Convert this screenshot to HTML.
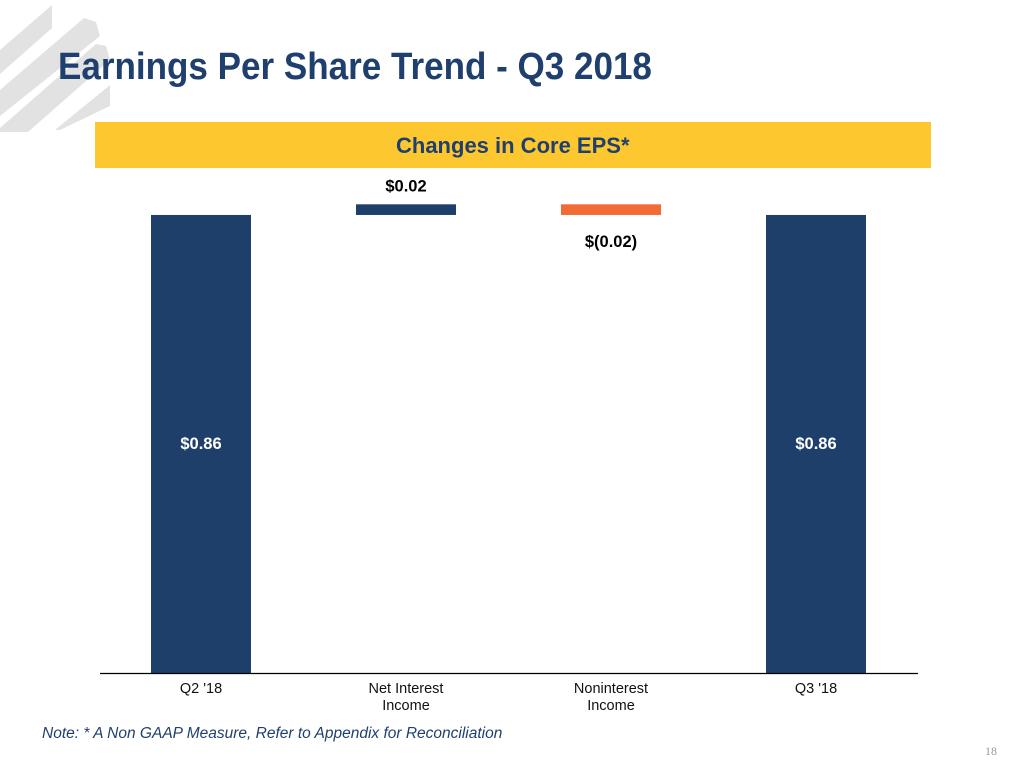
<!DOCTYPE html>
<html><head><meta charset="utf-8"><style>
body{margin:0;width:1024px;height:768px;background:#fff;overflow:hidden;position:relative;font-family:"Liberation Sans",sans-serif}
.t{position:absolute;white-space:nowrap}
</style></head><body>
<svg style="position:absolute;left:0;top:0" width="120" height="140">
<polygon points="0,50 52,5 52,28 0,74" fill="#e2e2e2"/>
<polygon points="0,90 84,18 96,22 100,36 0,116" fill="#e2e2e2"/>
<polygon points="0,128 96,44 106,46 110,60 28,132 0,132" fill="#e2e2e2"/>
<polygon points="55,130 110,85 110,106 60,130" fill="#e2e2e2"/>
</svg>
<div class="t" style="left:58px;top:46px;font-family:'Liberation Sans Narrow','Liberation Sans',sans-serif;font-weight:bold;font-size:38px;color:#1f3f6e;transform:scaleX(0.922);transform-origin:left">Earnings Per Share Trend - Q3 2018</div>
<div style="position:absolute;left:95px;top:122px;width:836px;height:46px;background:#fdc82f"></div>
<div class="t" style="left:396px;top:133px;font-family:'Liberation Sans Narrow','Liberation Sans',sans-serif;font-weight:bold;font-size:22px;color:#1f3f6e">Changes in Core EPS*</div>
<svg id="chart" style="position:absolute;left:0;top:0" width="1024" height="768"></svg>
<div class="t" style="left:42px;top:725px;font-size:15.5px;font-style:italic;color:#1f3f6e">Note: * A Non GAAP Measure, Refer to Appendix for Reconciliation</div>
<div class="t" style="left:985px;top:744px;font-family:'Liberation Serif',serif;font-size:12px;color:#999">18</div>
<script>
const categories=["Q2 '18","Net Interest|Income","Noninterest|Income","Q3 '18"];
const values=[0.86,0.02,-0.02,0.86];
const kinds=["total","delta","delta","total"];
const valueLabels=["$0.86","$0.02","$(0.02)","$0.86"];
const NS="http://www.w3.org/2000/svg";
const svg=document.getElementById('chart');
const baseY=673, pxPer=532.6, x0=98.5, slot=205, bw=100;
const y=v=>baseY-v*pxPer;
const xc=i=>x0+slot*(i+0.5);
function mk(t,a){const e=document.createElementNS(NS,t);for(const k in a)e.setAttribute(k,a[k]);svg.appendChild(e);return e;}
let run=0;
values.forEach((v,i)=>{
  let top,bot,col;
  if(kinds[i]==="total"){top=y(v);bot=y(0);run=v;col="#1f3f6b";}
  else{const a=run,b=run+v;top=y(Math.max(a,b));bot=y(Math.min(a,b));run=b;col=v>=0?"#1f3f6b":"#f26b35";}
  const r=mk('rect',{x:xc(i)-bw/2,y:top,width:bw,height:bot-top,fill:col});
  
  
  let ly;
  if(kinds[i]==="total")ly=y(v/2)+5;else if(v>=0)ly=top-13;else ly=bot+32;
  const t=mk('text',{x:xc(i),y:ly,'text-anchor':'middle','font-size':16.5,'font-weight':'bold',fill:kinds[i]==="total"?"#fff":"#000"});
  t.textContent=valueLabels[i];
  
  
  categories[i].split('|').forEach((ln,j)=>{
    const c=mk('text',{x:xc(i),y:baseY+20+j*17,'text-anchor':'middle','font-size':14.5,fill:'#111'});
    c.textContent=ln;
    
    
  });
});
const ax=mk('line',{x1:100,x2:918,y1:baseY+0.5,y2:baseY+0.5,stroke:'#000','stroke-width':1.2});


</script>
</body></html>
